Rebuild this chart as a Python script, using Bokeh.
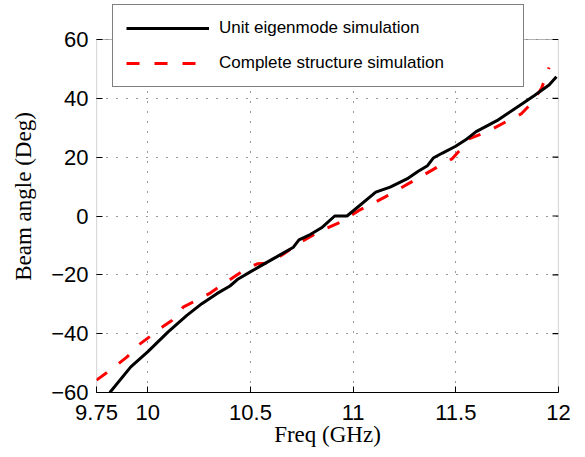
import math
from bokeh.plotting import figure
from bokeh.models import Legend, LegendItem, FixedTicker, BoxAnnotation
from bokeh.embed import file_html
from bokeh.resources import INLINE

# Unit eigenmode simulation: frequency (GHz) and beam angle (deg)
eig_freq = [9.815, 9.917, 9.999, 10.099, 10.19, 10.263, 10.336, 10.40, 10.44, 10.499,
            10.554, 10.627, 10.709, 10.736, 10.791, 10.846, 10.91, 10.97, 11.11, 11.18,
            11.262, 11.317, 11.362, 11.39, 11.435, 11.499, 11.554, 11.599, 11.645, 11.70,
            11.754, 11.827, 11.881, 11.954, 11.99]
eig_angle = [-60.0, -51.3, -46.2, -39.4, -33.8, -29.8, -26.4, -23.8, -21.4, -19.0,
             -16.8, -13.9, -10.6, -8.1, -6.3, -4.0, 0.0, 0.0, 8.1, 9.8,
             12.6, 15.2, 17.1, 19.7, 21.4, 23.7, 26.2, 28.7, 30.4, 32.4,
             34.9, 38.3, 40.9, 44.5, 47.3]

# Complete structure simulation
full_freq = [9.75, 9.826, 9.899, 9.954, 10.008, 10.081, 10.117, 10.172, 10.299, 10.417,
             10.481, 10.536, 10.59, 10.663, 10.736, 10.846, 10.937, 11.028, 11.154, 11.282,
             11.409, 11.481, 11.518, 11.563, 11.645, 11.754, 11.818, 11.872, 11.918, 11.954]
full_angle = [-55.8, -51.9, -47.9, -43.9, -41.1, -37.2, -35.5, -31.0, -26.4, -20.8,
              -17.9, -16.2, -16.0, -12.8, -9.2, -4.9, -2.1, 1.9, 6.4, 11.5,
              16.6, 19.4, 22.2, 26.2, 28.4, 32.4, 34.7, 38.6, 43.5, 50.5]

x_ticks = [9.75, 10, 10.5, 11, 11.5, 12]
x_tick_labels = ["9.75", "10", "10.5", "11", "11.5", "12"]
y_ticks = [-60, -40, -20, 0, 20, 40, 60]
y_tick_labels = ["\u221260", "\u221240", "\u221220", "0", "20", "40", "60"]

x_min, x_max = x_ticks[0], x_ticks[-1]
y_min, y_max = y_ticks[0], y_ticks[-1]

# The canvas reaches to the top of the page so the legend can sit above the axes box;
# the extra headroom (about 39 px) is expressed in data units.
frame_h = 392
head_px = 39
y_top = y_max + head_px * (y_max - y_min) / (frame_h - head_px)

p = figure(width=585, height=457, output_backend="svg", toolbar_location=None,
           x_range=(x_min, x_max), y_range=(y_min, y_top),
           min_border_left=96, min_border_right=27, min_border_top=0, min_border_bottom=65)
p.background_fill_color = "white"
p.border_fill_color = "white"
p.outline_line_color = None

tick_font = "Liberation Sans"
label_font = "Liberation Serif"

p.xaxis.ticker = FixedTicker(ticks=x_ticks)
p.xaxis.major_label_overrides = dict(zip(x_ticks, x_tick_labels))
p.yaxis.ticker = FixedTicker(ticks=y_ticks)
p.yaxis.major_label_overrides = dict(zip(y_ticks, y_tick_labels))

for ax in (p.xaxis[0], p.yaxis[0]):
    ax.major_tick_in = 6
    ax.major_tick_out = 0
    ax.minor_tick_in = 0
    ax.minor_tick_out = 0
    ax.axis_line_color = "black"
    ax.axis_line_width = 1.2
    ax.major_tick_line_color = "black"
    ax.major_label_text_font = tick_font
    ax.major_label_text_font_size = "22px"
    ax.major_label_text_color = "black"
    ax.axis_label_text_font = label_font
    ax.axis_label_text_font_size = "23px"
    ax.axis_label_text_font_style = "normal"
    ax.axis_label_text_color = "black"
p.yaxis.axis_line_color = None

p.xaxis.axis_label = "Freq (GHz)"
p.yaxis.axis_label = "Beam angle (Deg)"
p.xaxis.major_label_standoff = 12
p.yaxis.major_label_standoff = 8
p.xaxis.axis_label_standoff = -1
p.yaxis.axis_label_standoff = 12

for g in (p.xgrid[0], p.ygrid[0]):
    g.grid_line_color = "black"
    g.grid_line_alpha = 0.8
    g.grid_line_dash = "1 9"
    g.grid_line_width = 1
p.xgrid.ticker = FixedTicker(ticks=x_ticks)
p.ygrid.ticker = FixedTicker(ticks=y_ticks)

# blank the headroom above the axes box
p.add_layout(BoxAnnotation(bottom=y_max, fill_color="white", fill_alpha=1,
                           line_color=None, level="underlay"))

r_full = p.line(full_freq, full_angle, line_color="red", line_width=3, line_dash="13 15")
r_eig = p.line(eig_freq, eig_angle, line_color="black", line_width=3)

# axes box and inward ticks on the right edge
p.add_layout(BoxAnnotation(left=x_min, right=x_max, bottom=y_min, top=y_max,
                           fill_alpha=0, line_color="black", line_width=1.2))
p.ray(x=[x_max] * len(y_ticks), y=y_ticks, length=6, length_units="screen",
      angle=math.pi, line_color="black", line_width=1.2)

legend = Legend(items=[LegendItem(label="Unit eigenmode simulation", renderers=[r_eig]),
                       LegendItem(label="Complete structure simulation", renderers=[r_full])],
                location=(16, 305))
legend.label_text_font = tick_font
legend.label_text_font_size = "17px"
legend.label_text_color = "black"
legend.glyph_width = 83
legend.glyph_height = 20
legend.label_height = 20
legend.label_standoff = 10
legend.label_width = 291
legend.padding = 13
legend.spacing = 15
legend.margin = 0
legend.border_line_color = "black"
legend.border_line_width = 1.3
legend.background_fill_color = "white"
legend.background_fill_alpha = 1
p.add_layout(legend, "center")

open("out.html", "w").write(file_html(p, INLINE))
